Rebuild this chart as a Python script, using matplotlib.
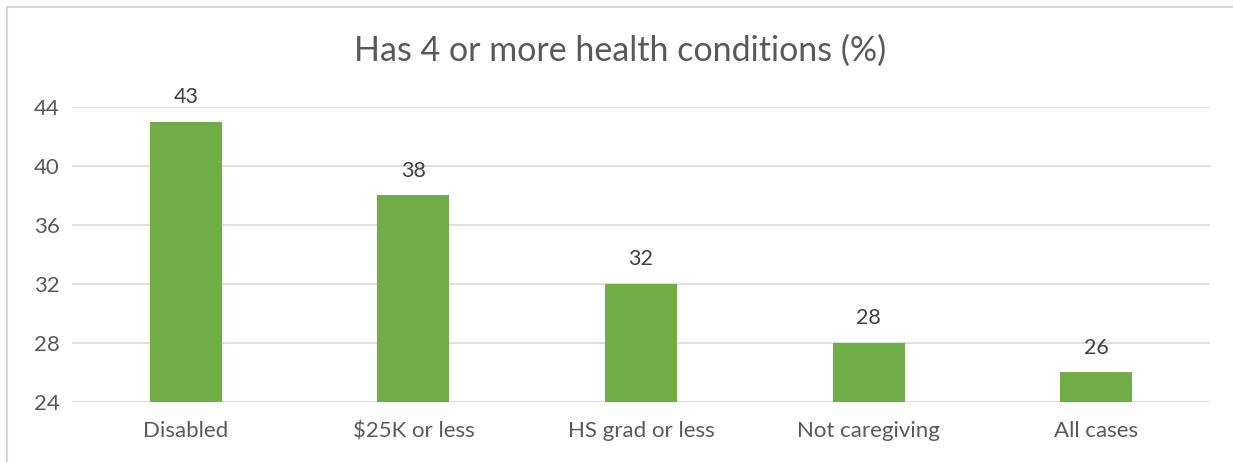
import matplotlib.pyplot as plt
from matplotlib.lines import Line2D

categories = ["Disabled", "$25K or less", "HS grad or less", "Not caregiving", "All cases"]
values = [43, 38, 32, 28, 26]
yticks = [24, 28, 32, 36, 40, 44]

plt.rcParams['font.family'] = ['Lato', 'DejaVu Sans']
txt = '#595959'

fig = plt.figure(figsize=(12.33, 4.62), dpi=100)
ax = fig.add_axes([0.0584, 0.1299, 0.9229, 0.6385])

x = range(len(categories))
ax.bar(x, values, width=0.316, color='#70AD47', zorder=3)
for i, v in zip(x, values):
    ax.annotate(str(v), (i, v), xytext=(0, 10.5), textcoords='offset points',
                ha='center', va='bottom', fontsize=15.5, color='#404040')

ax.set_ylim(24, 44)
ax.set_xlim(-0.5, len(categories) - 0.5)
ax.set_yticks(yticks)
ax.set_xticks(list(x))
ax.set_xticklabels(categories)
ax.tick_params(axis='both', length=0, labelsize=16, labelcolor=txt)
ax.tick_params(axis='y', pad=9)
ax.tick_params(axis='x', pad=14)
ax.grid(axis='y', color='#D9D9D9', linewidth=1.2, zorder=0)
for s in ax.spines.values():
    s.set_visible(False)

fig.text(0.503, 0.89, "Has 4 or more health conditions (%)", ha='center', va='center',
         fontsize=24.5, color=txt)

# chart border, top and left only (rest is cut off)
bx, by = 6.5 / 1233, 1 - 7 / 462
fig.add_artist(Line2D([bx, 1], [by, by], transform=fig.transFigure, color='#D9D9D9', lw=1.5))
fig.add_artist(Line2D([bx, bx], [0, by], transform=fig.transFigure, color='#D9D9D9', lw=1.5))

fig.savefig('out.png', dpi=100)
